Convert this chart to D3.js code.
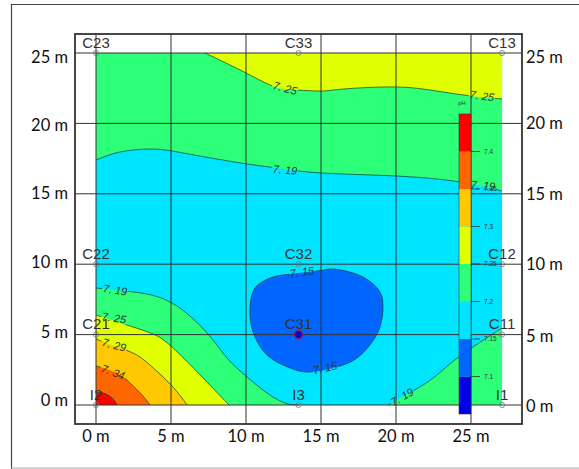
<!DOCTYPE html>
<html><head><meta charset="utf-8">
<script src="https://cdn.jsdelivr.net/npm/d3@7"></script>
<style>html,body{margin:0;padding:0;background:#fff;overflow:hidden}svg{display:block}</style>
</head><body><div id="chart"></div>
<script>
// distances in metres, contour traces
const tickValues=[0,5,10,15,20,25];
const xExtent=27.07, yExtent=25;
const contour725Top=[[7.27,25],[10,23.58],[11.93,22.59],[13.4,22.37],[15,22.3],[16.47,22.44],[19.4,22.59],[21.8,22.44],[24.47,22.02],[27.07,21.73]];
const contour719Top=[[0,17.4],[1.6,17.97],[3.6,18.18],[5.07,18.04],[6.93,17.68],[10.07,17.12],[12.07,16.83],[15,16.48],[20.07,16.26],[24.27,15.84],[27.07,15.2]];
const contour715Blob=[[10.27,6.96],[10.6,8.31],[11.6,9.02],[12.93,9.3],[15,9.55],[15.8,9.66],[17.8,9.09],[18.93,8.03],[19.13,6.96],[18.8,5.18],[17.4,3.34],[15.8,2.63],[14.07,2.34],[12.93,2.63],[11.4,3.55],[10.47,5.18]];
const contour719Right=[[19.47,0],[21.47,1.21],[22.73,2.13],[24.27,3.48],[27.07,5.47]];
const contour719Left=[[0,8.31],[2.47,8.03],[5.07,7.24],[7.47,5.04],[8.73,3.34],[10.07,1.99],[11.4,.85],[12.6,.14],[13.53,0]];
const contour725Left=[[0,6.39],[2.47,5.54],[3.8,5.04],[5.07,4.12],[7.4,1.63],[8.87,0]];
const contour729=[[0,4.69],[1.07,4.26],[2.47,3.69],[3.6,2.84],[5.07,1.35],[6.07,0]];
const contour734=[[0,2.77],[1.4,2.27],[2.27,1.56],[3.07,.71],[3.6,0]];
const contour74=[[0,.85],[.47,.85],[1.07,.5],[1.4,0]];
const stationNames=["C23","C33","C13","C22","C32","C12","C21","C31","C11","I2","I3","I1"];
const stationX=[0,13.5,27.07,0,13.5,27.07,0,13.5,27.07,0,13.5,27.07];
const stationY=[25,25,25,10,10,10,5,5,5,0,0,0];
const contourLabels=["7. 25","7. 25","7. 19","7. 19","7. 19","7. 25","7. 29","7. 34","7. 15","7. 15","7. 19"];
const labelX=[12.6,25.73,12.6,25.8,1.27,1.2,1.2,1.13,13.73,15.27,20.4];
const labelY=[22.5,21.95,16.7,15.6,8.17,6.18,4.26,2.34,9.45,2.63,.57];
const labelAngle=[15,8,5,5,8,8,15,20,-8,-12,-30];
const legendBreaks=[7.05,7.1,7.15,7.2,7.25,7.3,7.35,7.4,7.45];
const legendTicks=[7.1,7.15,7.2,7.25,7.3,7.35,7.4];
const palette=["#0000e6","#0066ff","#00e5ff","#2eff78","#e0ff00","#ffc800","#ff6600","#ff0000"];

const svg=d3.select("#chart").append("svg").attr("width",579).attr("height",469);
const x=d3.scaleLinear().domain([0,25]).range([96,471]);
const y=d3.scaleLinear().domain([0,25]).range([405,53]);
const legend=d3.scaleLinear().domain([7.05,7.45]).range([414,114]);
const line=d3.line().x(d=>x(d[0])).y(d=>y(d[1])).curve(d3.curveNatural);
const closed=d3.line().x(d=>x(d[0])).y(d=>y(d[1])).curve(d3.curveCatmullRomClosed.alpha(.5));
const c=i=>palette[i];

// page frame
svg.append("path").attr("d","M11.5,469V4.5H579").attr("fill","none").attr("stroke","#444").attr("stroke-width",1.2);
svg.append("path").attr("d","M11,468H579").attr("stroke","#aaa").attr("fill","none");

// filled bands
const plot=svg.append("g");
plot.append("rect").attr("x",x(0)).attr("y",y(yExtent)).attr("width",x(xExtent)-x(0)).attr("height",y(0)-y(yExtent)).attr("fill",c(2));
function band(pts,corners,fill){
  const d=line(pts)+corners.map(p=>"L"+x(p[0])+","+y(p[1])).join("")+"Z";
  plot.append("path").attr("d",d).attr("fill",fill);
}
band(contour719Top,[[xExtent,yExtent],[0,yExtent]],c(3));
band(contour725Top,[[xExtent,yExtent]],c(4));
band(contour719Right,[[xExtent,0]],c(3));
band(contour719Left,[[0,0]],c(3));
band(contour725Left,[[0,0]],c(4));
band(contour729,[[0,0]],c(5));
band(contour734,[[0,0]],c(6));
band(contour74,[[0,0]],c(7));
plot.append("path").attr("d",closed(contour715Blob)).attr("fill",c(1));

// mask opening the contour lines under their labels
const mask=svg.append("defs").append("mask").attr("id","gaps").attr("maskUnits","userSpaceOnUse").attr("x",0).attr("y",0).attr("width",579).attr("height",469);
mask.append("rect").attr("width",579).attr("height",469).attr("fill","#fff");
contourLabels.forEach((d,i)=>mask.append("rect").attr("x",-13).attr("y",-5).attr("width",26).attr("height",10).attr("fill","#000")
  .attr("transform",`translate(${x(labelX[i])},${y(labelY[i])}) rotate(${labelAngle[i]})`));

// contour lines
const lines=svg.append("g").attr("fill","none").attr("stroke","#0a3a3a").attr("stroke-width",.7).attr("mask","url(#gaps)");
[contour725Top,contour719Top,contour719Right,contour719Left,contour725Left,contour729,contour734,contour74].forEach(p=>lines.append("path").attr("d",line(p)));
lines.append("path").attr("d",closed(contour715Blob));

// axes and grid
const font="Lato, Carlito, sans-serif";
const fmt=d=>d+" m";
const styleAxis=g=>{g.select(".domain").remove();g.selectAll("line").attr("stroke","#333").attr("stroke-width",1);
  g.selectAll("text").attr("fill","#111").style("font-family",font).style("font-size","16.5px");};
const leftNudge={0:-5,5:-2,10:-2,15:0,20:2,25:4}, rightNudge={0:1,5:2,10:0,15:1,20:0,25:4};
svg.append("g").attr("transform","translate(75,0)").call(d3.axisLeft(y).tickValues(tickValues).tickFormat(fmt).offset(0).tickSizeInner(-447).tickSizeOuter(0).tickPadding(7)).call(styleAxis)
  .selectAll("text").attr("dy",d=>(leftNudge[d]+5.5)+"px");
svg.append("g").attr("transform","translate(522,0)").call(d3.axisRight(y).tickValues(tickValues).tickFormat(fmt).offset(0).tickSize(0).tickPadding(4)).call(styleAxis)
  .selectAll("text").attr("dy",d=>(rightNudge[d]+5.5)+"px");
svg.append("g").attr("transform","translate(0,424)").call(d3.axisBottom(x).tickValues(tickValues).tickFormat(fmt).offset(0).tickSizeInner(-390).tickSizeOuter(0).tickPadding(6)).call(styleAxis);
svg.append("rect").attr("x",75).attr("y",34).attr("width",447).attr("height",390).attr("fill","none").attr("stroke","#333").attr("stroke-width",1.8);

// contour labels
svg.append("g").selectAll("text").data(contourLabels).join("text")
  .attr("transform",(d,i)=>`translate(${x(labelX[i])},${y(labelY[i])}) rotate(${labelAngle[i]})`)
  .attr("text-anchor","middle").attr("dy","0.35em")
  .style("font-family","'Liberation Sans',sans-serif").style("font-style","italic").style("font-size","11px").attr("fill","#2a3a2a").text(d=>d);

// colour legend
const lg=svg.append("g");
palette.forEach((col,i)=>lg.append("rect").attr("x",459).attr("width",12)
  .attr("y",legend(legendBreaks[i+1])).attr("height",legend(legendBreaks[i])-legend(legendBreaks[i+1])).attr("fill",col));
lg.append("rect").attr("x",459).attr("y",legend(7.45)).attr("width",12).attr("height",legend(7.05)-legend(7.45)).attr("fill","none").attr("stroke","#334").attr("stroke-width",.6);
lg.append("g").attr("transform","translate(471,0)").call(d3.axisRight(legend).tickValues(legendTicks).tickFormat(d3.format(".2~f")).offset(0).tickSize(9).tickPadding(4))
  .call(g=>{g.select(".domain").remove();g.selectAll("line").attr("stroke","#222").attr("stroke-width",.7);
    g.selectAll("text").attr("fill","#333").style("font-family","'Liberation Sans',sans-serif").style("font-size","6.5px");});
lg.append("text").attr("x",462).attr("y",105).attr("text-anchor","middle").attr("fill","#333").style("font-family","'Liberation Sans',sans-serif").style("font-size","6px").text("pH");

// stations
const st=svg.append("g");
stationNames.forEach((n,i)=>{
  const isC31=n==="C31";
  st.append("circle").attr("cx",x(stationX[i])).attr("cy",y(stationY[i])).attr("r",isC31?3.8:2.6)
    .attr("fill",isC31?"#0000c8":"none").attr("stroke",isC31?"#a0103a":"#777").attr("stroke-width",isC31?1.4:.8);
  st.append("text").attr("x",x(stationX[i])).attr("y",y(stationY[i])-5.5).attr("text-anchor","middle")
    .attr("fill","#333").style("font-family","'Liberation Sans',sans-serif").style("font-size","15px").text(n);
});
</script></body></html>
